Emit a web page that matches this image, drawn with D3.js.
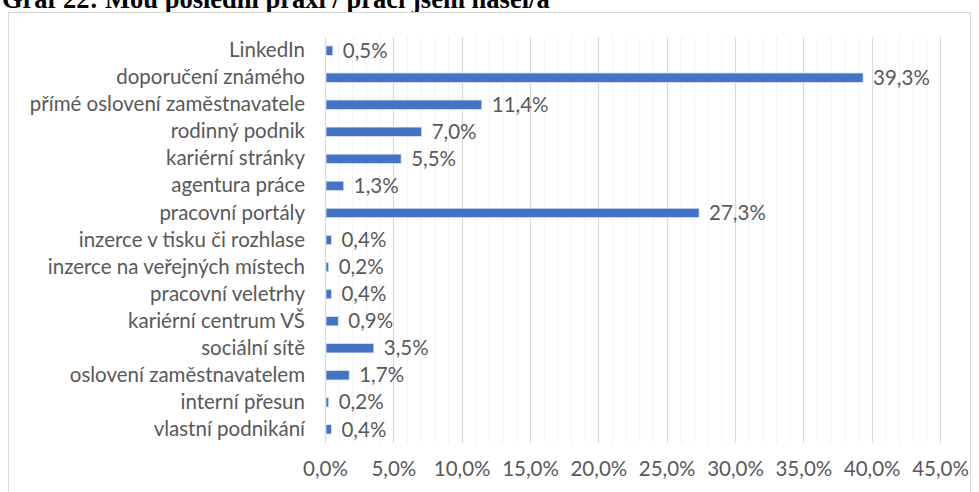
<!DOCTYPE html>
<html>
<head>
<meta charset="utf-8">
<script src="https://cdn.jsdelivr.net/npm/d3@7"></script>
<style>
  html, body { margin: 0; padding: 0; background: #fff; }
  svg { display: block; }
</style>
</head>
<body>
<svg id="chart" width="979" height="492"></svg>
<script>
// Job-search channels, top to bottom
const categories = [
  "LinkedIn",
  "doporučení známého",
  "přímé oslovení zaměstnavatele",
  "rodinný podnik",
  "kariérní stránky",
  "agentura práce",
  "pracovní portály",
  "inzerce v tisku či rozhlase",
  "inzerce na veřejných místech",
  "pracovní veletrhy",
  "kariérní centrum VŠ",
  "sociální sítě",
  "oslovení zaměstnavatelem",
  "interní přesun",
  "vlastní podnikání"
];
// Share of respondents, %
const shares = [0.5, 39.3, 11.4, 7.0, 5.5, 1.3, 27.3, 0.4, 0.2, 0.4, 0.9, 3.5, 1.7, 0.2, 0.4];
const majorTicks = [0, 5, 10, 15, 20, 25, 30, 35, 40, 45];
const minorTicks = d3.range(0, 46, 1);
const title = "Graf 22: Mou poslední praxi / práci jsem našel/a";

const fmt = v => v.toFixed(1).replace(".", ",") + "%";
const font = "Lato, 'Open Sans', sans-serif";
const textColor = "#595959";
const fontSize = 20.5;

const svg = d3.select("#chart");

// Title (sits above the chart frame)
svg.append("text")
  .attr("x", 2).attr("y", 8)
  .attr("font-family", "'Liberation Serif', 'Times New Roman', serif")
  .attr("font-weight", "bold")
  .attr("font-size", 26.5)
  .attr("fill", "#000")
  .text(title);

// Chart frame
svg.append("rect")
  .attr("x", 8.5).attr("y", 12.5)
  .attr("width", 962).attr("height", 490)
  .attr("fill", "#fff")
  .attr("stroke", "#d9d9d9");

const plot = { left: 325, right: 940, top: 37, bottom: 443 };

const x = d3.scaleLinear().domain([0, 45]).range([plot.left, plot.right]);
const y = d3.scaleBand().domain(categories).range([plot.top, plot.bottom]).paddingInner(0.65).paddingOuter(0.33);

// Minor gridlines
svg.append("g").selectAll("line")
  .data(minorTicks.filter(t => t % 5 !== 0))
  .join("line")
  .attr("x1", d => x(d) + 0.5).attr("x2", d => x(d) + 0.5)
  .attr("y1", plot.top).attr("y2", plot.bottom)
  .attr("stroke", "#f2f2f2").attr("stroke-width", 1);

// Major gridlines
svg.append("g").selectAll("line")
  .data(majorTicks)
  .join("line")
  .attr("x1", d => Math.round(x(d)) + 0.5).attr("x2", d => Math.round(x(d)) + 0.5)
  .attr("y1", plot.top).attr("y2", plot.bottom)
  .attr("stroke", "#d9d9d9").attr("stroke-width", 1.2);

// X axis tick labels
const xAxis = d3.axisBottom(x).tickValues(majorTicks).tickSize(0).tickPadding(0).tickFormat(fmt);
const gx = svg.append("g").attr("transform", `translate(0, 461)`).call(xAxis);
gx.select(".domain").remove();
gx.selectAll("text")
  .attr("font-family", font).attr("font-size", fontSize).attr("fill", textColor)
  .attr("dy", "0.71em");

// Y axis category labels
const yAxis = d3.axisLeft(y).tickSize(0).tickPadding(20);
const gy = svg.append("g").attr("transform", `translate(${plot.left}, 0)`).call(yAxis);
gy.select(".domain").remove();
gy.selectAll("text")
  .attr("font-family", font).attr("font-size", fontSize).attr("fill", textColor);

// Bars
svg.append("g").selectAll("rect")
  .data(shares)
  .join("rect")
  .attr("x", x(0) + 1)
  .attr("y", (d, i) => y(categories[i]))
  .attr("width", d => x(d) - x(0))
  .attr("height", y.bandwidth())
  .attr("fill", "#4472c4")
  .attr("stroke", "#dfe7f5").attr("stroke-width", 0.8);

// Value labels
svg.append("g").selectAll("text")
  .data(shares)
  .join("text")
  .attr("x", d => x(d) + 11)
  .attr("y", (d, i) => y(categories[i]) + y.bandwidth() / 2)
  .attr("dy", "0.35em")
  .attr("font-family", font).attr("font-size", fontSize).attr("fill", textColor)
  .text(fmt);
</script>
</body>
</html>
